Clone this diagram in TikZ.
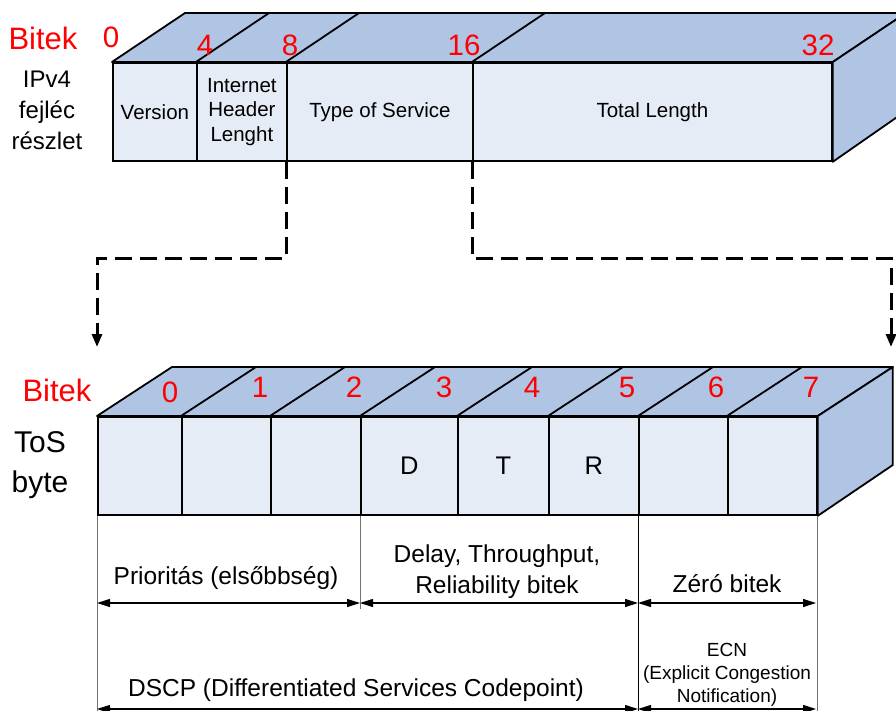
\documentclass[tikz,border=0pt]{standalone}
\usepackage{fontspec}
\setmainfont{Liberation Sans}
\usetikzlibrary{arrows.meta,calc}
\definecolor{facetop}{RGB}{176,197,227}
\definecolor{facefront}{RGB}{229,236,246}
\definecolor{guidegray}{RGB}{115,115,115}
\definecolor{bitred}{RGB}{255,0,0}

\begin{document}
\begin{tikzpicture}[x=1pt,y=-1pt,
  cell/.style={draw=black, line width=1.8pt, fill=facefront, minimum height=98pt,
    inner sep=0pt, anchor=north west, align=center},
  boxface/.style={draw=black, line width=1.8pt, fill=facetop, line join=round},
  edge3d/.style={draw=black, line width=1.8pt},
  cellfont/.style={font=\fontsize{20.5}{24.5}\selectfont},
  bitlabel/.style={text=bitred, font=\fontsize{29.5}{31}\selectfont, inner sep=0pt},
  headlabel/.style={text=bitred, font=\fontsize{31}{33}\selectfont, inner sep=0pt},
  sidelabel/.style={align=center, inner sep=0pt},
  conn/.style={line width=3pt, dash pattern=on 17pt off 8pt, -{Triangle[length=13pt,width=10pt]}},
  guide/.style={draw=guidegray, line width=1pt},
  dim/.style={line width=1.1pt, {Triangle[length=13pt,width=8pt]}-{Triangle[length=13pt,width=8pt]}},
  note/.style={align=center, inner sep=0pt, font=\fontsize{24.5}{31}\selectfont}
]
\useasboundingbox (0,0) rectangle (896,711);
\clip (0,0) rectangle (896,711);

% ---------- IPv4 header box ----------
\node[cell, cellfont, minimum width=84pt] (ver) at (112,62) {Version};
\node[cell, cellfont, minimum width=90pt] (ihl) at (196,62) {Internet\\Header\\Lenght};
\node[cell, cellfont, minimum width=186pt] (tos) at (286,62) {Type of Service};
\node[cell, cellfont, minimum width=359pt] (len) at (472,62) {Total Length};
% top and side faces
\path[boxface] (ver.north west) -- ++(73,-49) -- ($(len.north east)+(73,-49)$) -- (len.north east) -- cycle;
\path[boxface] (len.north east) -- ++(73,-49) -- ++(0,98) -- (len.south east) -- cycle;
\foreach \c in {ihl,tos,len}
  \draw[edge3d] (\c.north west) -- ++(73,-49);

% bit positions
\node[headlabel] (bitA) at (43,38) {Bitek};
\node[bitlabel] at (111,37) {0};
\node[bitlabel] at (205,45) {4};
\node[bitlabel] at (290,45) {8};
\node[bitlabel] at (464,45) {16};
\node[bitlabel] at (818,45) {32};
\node[sidelabel, font=\fontsize{24}{31}\selectfont] (hdr) at (47,110) {IPv4\\fejléc\\részlet};

% ---------- ToS byte box ----------
\node[cell, minimum width=84pt] (b0) at (97,416) {};
\node[cell, minimum width=89pt] (b1) at (181,416) {};
\node[cell, minimum width=90pt] (b2) at (270,416) {};
\node[cell, minimum width=97pt, font=\fontsize{25.5}{27}\selectfont] (b3) at (360,416) {D};
\node[cell, minimum width=91pt, font=\fontsize{25.5}{27}\selectfont] (b4) at (457,416) {T};
\node[cell, minimum width=90pt, font=\fontsize{25.5}{27}\selectfont] (b5) at (548,416) {R};
\node[cell, minimum width=89pt] (b6) at (638,416) {};
\node[cell, minimum width=89pt] (b7) at (727,416) {};
\path[boxface] (b0.north west) -- ++(75,-49) -- ($(b7.north east)+(75,-49)$) -- (b7.north east) -- cycle;
\path[boxface] (b7.north east) -- ++(75,-49) -- ++(0,98) -- (b7.south east) -- cycle;
\foreach \c in {b1,b2,b3,b4,b5,b6,b7}
  \draw[edge3d] (\c.north west) -- ++(75,-49);

\node[headlabel] (bitB) at (57,390) {Bitek};
\node[bitlabel] at (170,392) {0};
\node[bitlabel] at (260,387) {1};
\node[bitlabel] at (354,387) {2};
\node[bitlabel] at (444,387) {3};
\node[bitlabel] at (532,387) {4};
\node[bitlabel] at (627,387) {5};
\node[bitlabel] at (716,387) {6};
\node[bitlabel] at (811,387) {7};
\node[sidelabel, font=\fontsize{30}{40}\selectfont] (tosb) at (40,465) {ToS\\byte};

% ---------- dashed expansion connectors ----------
\coordinate (tgtL) at (97,347);
\coordinate (tgtR) at (891,347);
\draw[conn] (tos.south west) -- (tos.south west |- 0,258) -| (tgtL);
\draw[conn] (len.south west) -- (len.south west |- 0,258) -| (tgtR);

% ---------- field groupings ----------
\draw[guide] (b0.south west) -- ++(0,200);
\draw[guide] (b3.south west) -- ++(0,93);
\draw[guide, draw=black] (b6.south west) -- ++(0,200);
\draw[guide] (b7.south east) -- ++(0,200);

\coordinate (p0) at (97,603);
\coordinate (p1) at (360,603);
\coordinate (p2) at (638,603);
\coordinate (p3) at (816,603);
\coordinate (q0) at (97,709);
\coordinate (q1) at (638,709);
\coordinate (q2) at (816,709);
\draw[dim] (p0) -- (p1);
\draw[dim] (p1) -- (p2);
\draw[dim] (p2) -- (p3);
\draw[dim] (q0) -- (q1);
\draw[dim] (q1) -- (q2);

\node[note] (prio) at (226,578) {Prioritás (elsőbbség)};
\node[note] (dtr) at (497,572) {Delay, Throughput,\\Reliability bitek};
\node[note] (zero) at (727,584) {Zéró bitek};
\node[note] (dscp) at (356,690) {DSCP (Differentiated Services Codepoint)};
\node[note, font=\fontsize{19}{23}\selectfont] (ecn) at (727,675) {ECN\\(Explicit Congestion\\Notification)};
\end{tikzpicture}
\end{document}
